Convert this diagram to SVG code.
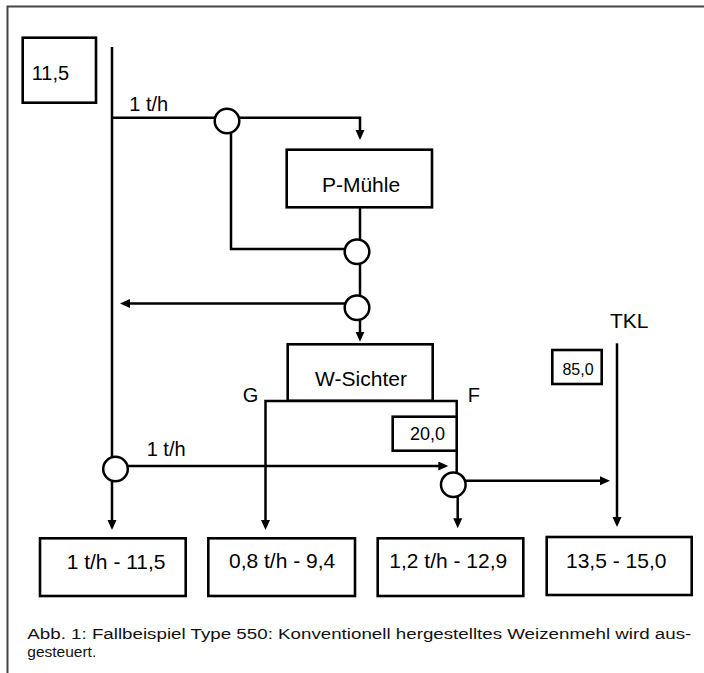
<svg xmlns="http://www.w3.org/2000/svg" width="704" height="673" viewBox="0 0 704 673">
<style>
.frame{fill:none;stroke:#444;stroke-width:2}
.box{fill:#fff;stroke:#000;stroke-width:2.6}
.ln{fill:none;stroke:#000;stroke-width:2.5}
.arr{marker-end:url(#ah)}
.circ{fill:#fff;stroke:#000;stroke-width:2.5}
.t{font-family:"Liberation Sans",Arial,sans-serif;fill:#000}
.t21{font-size:21px}
.t20{font-size:20px}
.cap{font-family:"Liberation Sans",Arial,sans-serif;font-size:15.5px;fill:#111}
</style>
<defs>
<marker id="ah" markerUnits="userSpaceOnUse" markerWidth="11" markerHeight="10" refX="6" refY="4.5" orient="auto">
<path d="M0,0 L10,4.5 L0,9 z" fill="#000"/>
</marker>
</defs>
<rect width="704" height="673" fill="#fff"/>
<path class="frame" d="M7.5,673 V6.5 H704"/>

<g id="connectors">
<path class="ln arr" d="M112,47 V526"/>
<path class="ln arr" d="M112,117.7 H360 V136"/>
<path class="ln" d="M231,121 V249 H357"/>
<path class="ln arr" d="M360,207 V337.7"/>
<path class="ln arr" d="M357,303.5 H124"/>
<path class="ln arr" d="M456.7,484 V401 H265.5 V526"/>
<path class="ln arr" d="M115.5,466 H444.3"/>
<path class="ln arr" d="M453,480.7 H606"/>
<path class="ln arr" d="M457.7,485 V524.3"/>
<path class="ln arr" d="M617,343.3 V523"/>
</g>

<g id="node-input">
<rect class="box" x="22.7" y="37.7" width="73.3" height="65"/>
<text class="t t20" x="31.7" y="80">11,5</text>
</g>

<g id="node-pmuehle">
<rect class="box" x="286.7" y="149.7" width="145.3" height="57.6"/>
<text class="t t21" x="361" y="191.7" text-anchor="middle">P-Mühle</text>
</g>

<g id="node-wsichter">
<rect class="box" x="287.7" y="344.3" width="145" height="56.4"/>
<text class="t t21" x="361" y="386" text-anchor="middle">W-Sichter</text>
</g>

<g id="label-G"><text class="t t20" x="242.7" y="402">G</text></g>
<g id="label-F"><text class="t t20" x="467.7" y="401.7">F</text></g>

<g id="node-20">
<rect class="box" x="392.7" y="416.7" width="64" height="34"/>
<text class="t" font-size="18" x="427.5" y="440" text-anchor="middle">20,0</text>
</g>

<g id="node-85">
<rect class="box" x="552.3" y="350" width="49.4" height="34"/>
<text class="t" font-size="16" x="578" y="375" text-anchor="middle">85,0</text>
</g>

<g id="label-TKL"><text class="t t21" x="610" y="328.3">TKL</text></g>
<g id="label-1th-top"><text class="t t20" x="129.3" y="111">1 t/h</text></g>
<g id="label-1th-mid"><text class="t t20" x="146.7" y="455.7">1 t/h</text></g>

<g id="split-1"><circle class="circ" cx="227" cy="121" r="12.3"/></g>
<g id="split-2"><circle class="circ" cx="357" cy="251.7" r="12.3"/></g>
<g id="split-3"><circle class="circ" cx="357" cy="307.7" r="12.3"/></g>
<g id="split-4"><circle class="circ" cx="115.5" cy="469" r="12.3"/></g>
<g id="split-5"><circle class="circ" cx="453.3" cy="484.7" r="12.3"/></g>

<g id="out-1">
<rect class="box" x="40" y="538.3" width="145.7" height="57.7"/>
<text class="t t21" x="66.7" y="569">1 t/h - 11,5</text>
</g>
<g id="out-2">
<rect class="box" x="208.3" y="538.3" width="146.7" height="57.7"/>
<text class="t t21" x="229" y="568">0,8 t/h - 9,4</text>
</g>
<g id="out-3">
<rect class="box" x="377.7" y="538.3" width="145.6" height="57.7"/>
<text class="t t21" x="389.3" y="568">1,2 t/h - 12,9</text>
</g>
<g id="out-4">
<rect class="box" x="546.7" y="537" width="145" height="58"/>
<text class="t t21" x="566" y="567.5">13,5 - 15,0</text>
</g>

<g id="caption">
<text class="cap" x="27.3" y="639.3" textLength="664" lengthAdjust="spacingAndGlyphs">Abb. 1: Fallbeispiel Type 550: Konventionell hergestelltes Weizenmehl wird aus-</text>
<text class="cap" x="27.3" y="657.3">gesteuert.</text>
</g>
</svg>
